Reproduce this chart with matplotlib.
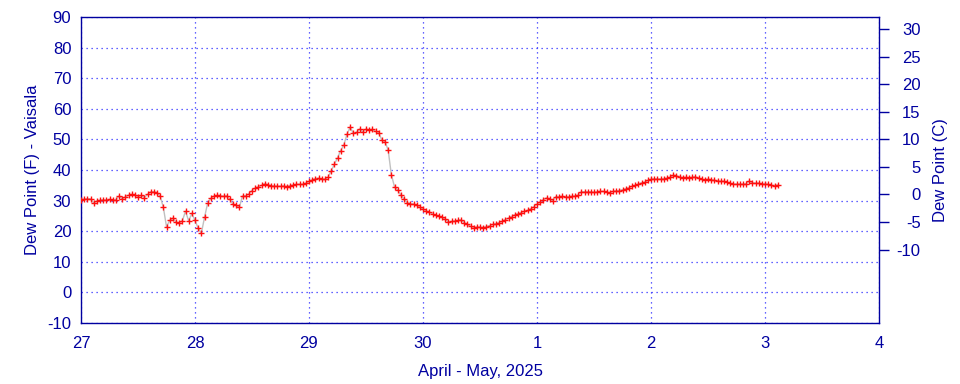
import numpy as np
import matplotlib
matplotlib.use("Agg")
import matplotlib.pyplot as plt

plt.rcParams['font.family'] = ['Liberation Sans', 'DejaVu Sans']
plt.rcParams['axes.unicode_minus'] = False

# Dew point readings (F), 36 readings per day starting Apr 27 00:00
day27 = [30.2, 30.5, 30.6, 30.6, 29.3, 29.9, 30.1, 30.3, 30.2, 30.4, 30.2, 30.3,
         31.5, 30.6, 31.2, 31.8, 32.0, 31.9, 31.2, 31.7, 31.0, 32.0, 32.9, 32.9,
         32.6, 31.4, 27.8, 21.5, 23.5, 24.3, 23.0, 22.6, 23.4, 26.5, 23.4, 25.8]
day28 = [23.5, 21.0, 19.3, 24.5, 29.2, 30.7, 31.5, 31.7, 31.6, 31.4, 31.6, 30.4,
         28.9, 28.4, 27.8, 31.5, 31.6, 32.2, 33.3, 34.1, 34.5, 35.0, 35.5, 35.2,
         34.9, 34.8, 34.7, 34.7, 34.8, 34.6, 34.9, 35.1, 35.3, 35.3, 35.3, 35.7]
day29 = [36.3, 36.8, 37.2, 37.3, 37.0, 37.0, 37.6, 39.7, 41.8, 44.0, 46.3, 48.2,
         51.7, 54.0, 52.0, 52.3, 53.4, 52.4, 53.4, 53.1, 53.3, 52.6, 52.2, 49.8,
         49.3, 46.5, 38.5, 34.5, 33.5, 31.9, 30.5, 29.3, 29.0, 28.9, 28.5, 27.8]
day30 = [27.3, 26.6, 26.3, 25.6, 25.2, 25.0, 24.5, 23.9, 23.0, 23.2, 23.3, 23.5,
         23.7, 22.8, 22.2, 21.6, 21.2, 21.4, 21.3, 21.2, 21.5, 21.8, 22.2, 22.5,
         22.8, 23.2, 23.8, 24.3, 24.8, 25.4, 25.7, 26.1, 26.5, 26.8, 27.3, 28.0]
day01 = [28.8, 29.7, 30.3, 30.9, 30.6, 30.0, 31.3, 31.3, 31.4, 31.2, 31.3, 31.4,
         31.5, 31.8, 32.9, 32.9, 32.9, 32.9, 32.7, 32.9, 33.0, 33.0, 32.7, 32.6,
         33.0, 33.2, 33.3, 33.5, 33.9, 34.2, 34.7, 35.0, 35.4, 35.8, 36.0, 36.6]
day02 = [37.0, 37.1, 37.1, 37.1, 37.2, 37.3, 37.6, 38.3, 38.2, 37.7, 37.5, 37.6,
         37.5, 37.6, 37.8, 37.4, 36.9, 36.8, 37.0, 36.8, 36.7, 36.4, 36.3, 36.3,
         36.0, 35.6, 35.4, 35.4, 35.4, 35.4, 35.5, 36.4, 35.8, 35.7, 35.7, 35.5]
day03 = [35.5, 35.3, 35.0, 34.9, 35.1]

readings_per_day = 36
dew_f = np.array(day27 + day28 + day29 + day30 + day01 + day02 + day03)
t = np.arange(len(dew_f)) / readings_per_day  # days since Apr 27 00:00

x_ticks = [0, 1, 2, 3, 4, 5, 6, 7]
x_labels = ["27", "28", "29", "30", "1", "2", "3", "4"]
yF_ticks = list(range(-10, 91, 10))
yC_ticks = list(range(-10, 31, 5))

navy = '#0000a0'
gridc = '#3030ff'

fig = plt.figure(figsize=(9.6, 3.84), dpi=100)
ax = fig.add_axes([81/960, 1-323/384, (879-81)/960, (323-17)/384])

ax.plot(t, dew_f, color='#c0c0c0', lw=1.0, zorder=2)
ax.plot(t, dew_f, ls='none', marker='+', ms=3.8, mew=1.0, color='#ff1010', zorder=3)

ax.set_xlim(0, 7)
ax.set_ylim(-10, 90)
ax.set_xticks(x_ticks)
ax.set_xticklabels(x_labels)
ax.set_yticks(yF_ticks)
ax.grid(True, color=gridc, ls=(0, (1, 3)), lw=0.9)
ax.tick_params(axis='both', length=0, colors=navy, labelsize=12)
ax.tick_params(axis='y', pad=7)
ax.tick_params(axis='x', pad=9)
for s in ax.spines.values():
    s.set_color(navy)
    s.set_linewidth(1.0)

ax.set_ylabel('Dew Point (F) - Vaisala', color=navy, fontsize=12, labelpad=5)
ax.set_xlabel('April - May, 2025', color=navy, fontsize=12, labelpad=10)

ax2 = ax.twinx()
ax2.set_ylim((-10 - 32) / 1.8, (90 - 32) / 1.8)
ax2.set_yticks(yC_ticks)
ax2.tick_params(axis='y', length=7, width=1.0, direction='out', colors=navy,
                labelsize=12, pad=23)
for lab in ax2.get_yticklabels():
    lab.set_horizontalalignment('right')
for s in ax2.spines.values():
    s.set_visible(False)
ax2.set_ylabel('Dew Point (C)', color=navy, fontsize=12, labelpad=9)

fig.savefig('out.png', dpi=100)
